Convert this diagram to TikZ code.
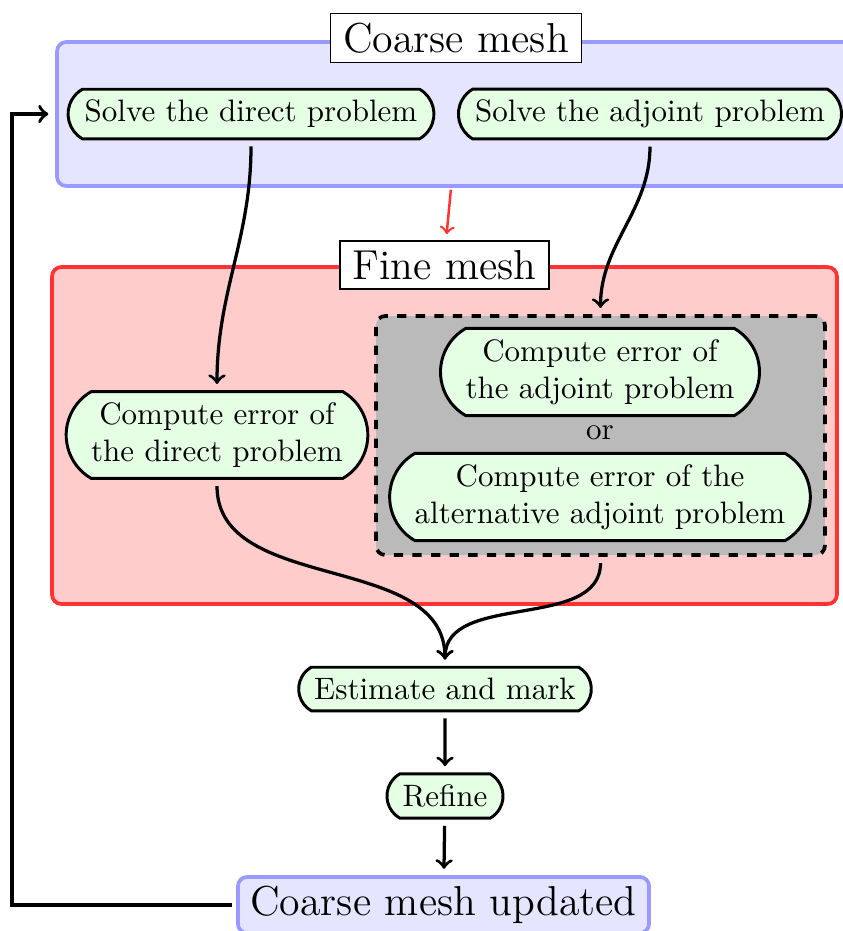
\documentclass[tikz,border=0pt]{standalone}
\usetikzlibrary{shapes.misc,arrows}
\begin{document}
\begin{tikzpicture}[x=0.32258pt,y=-0.32258pt]
\tikzset{
  proc/.style={rounded rectangle, rounded rectangle arc length=120, draw=black, line width=0.95pt, fill=green!10, inner xsep=4.2pt, inner ysep=3.5pt, align=center},
  coarsestyle/.style={draw=blue!40, fill=blue!10, line width=1.2pt, rounded corners=3pt},
  finestyle/.style={draw=red!80, fill=red!20, line width=1.2pt, rounded corners=3pt},
  graystyle/.style={draw=black, fill=black!27, very thick, dashed, rounded corners=3pt},
  titlebox/.style={draw=black, fill=white, line width=0.4pt, inner xsep=4pt, inner ysep=3pt, font=\fontsize{13.5}{16}\selectfont},
  arr/.style={->, line width=1.05pt, shorten >=2pt, shorten <=2pt},
}
\useasboundingbox (0,0) rectangle (843,931);
\clip (0,0) rectangle (843,931);
% containers
\node[coarsestyle, minimum width=257.4pt, minimum height=46.45pt, inner sep=0pt] (coarse) at (456,114) {};
\node[finestyle, minimum width=253.2pt, minimum height=108.7pt, inner sep=0pt] (fine) at (444.5,435.5) {};
\node[graystyle, minimum width=144.8pt, minimum height=77.1pt, inner sep=0pt] (grp) at (600.5,435.5) {};
% titles
\node[titlebox] (ctitle) at (456,38) {Coarse mesh};
\node[titlebox] (ftitle) at (444.5,265) {Fine mesh};
% processes
\node[proc] (sd) at (251,114) {Solve the direct problem};
\node[proc] (sa) at (650,114) {Solve the adjoint problem};
\node[proc] (cd) at (217,435) {Compute error of\\the direct problem};
\node[proc] (ca) at (600,372) {Compute error of\\the adjoint problem};
\node (or) at (600,433) {or};
\node[proc] (cb) at (600,497) {Compute error of the\\alternative adjoint problem};
\node[proc] (est) at (445,689) {Estimate and mark};
\node[proc] (ref) at (445,796) {Refine};
\node[coarsestyle, inner xsep=4pt, inner ysep=3pt, font=\fontsize{13.5}{16}\selectfont] (upd) at (443.5,905) {Coarse mesh updated};
\coordinate (fb) at (12,905);
% connectors
\draw[arr] (sd.south) to[out=-90,in=90] (cd.north);
\draw[arr] (sa.south) to[out=-90,in=90] (grp.north);
\draw[arr] (cd.south) to[out=-90,in=90] (est.north);
\draw[arr] (grp.south) to[out=-90,in=90] (est.north);
\draw[arr] (est) -- (ref);
\draw[arr] (ref) -- (upd);
\draw[->, thick, red!80, shorten >=2pt, shorten <=0.6pt] ([xshift=-1.6pt]coarse.south) -- ([xshift=0.5pt]ftitle.north);
\draw[->, line width=1.15pt, shorten >=2.2pt, shorten <=1.2pt] (upd.west) -- (fb) |- (coarse.west);
\end{tikzpicture}
\end{document}
